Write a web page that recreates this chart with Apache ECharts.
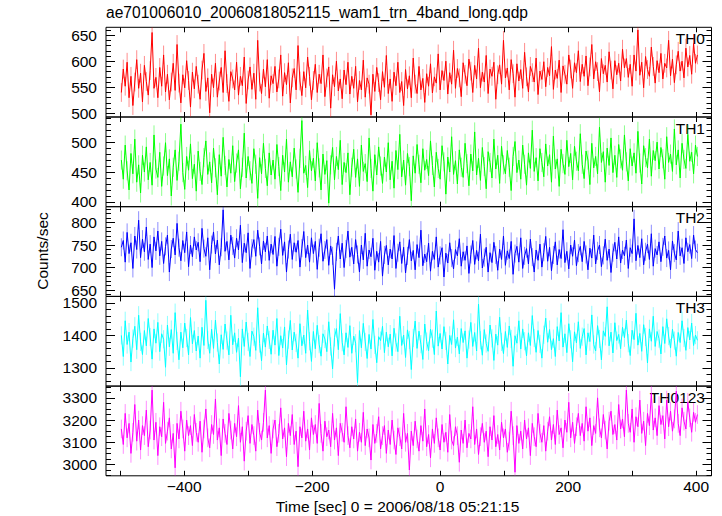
<!DOCTYPE html>
<html>
<head>
<meta charset="utf-8">
<script src="https://cdn.jsdelivr.net/npm/echarts@6/dist/echarts.min.js"></script>
<style>
html,body{margin:0;padding:0;background:#fff;}
#chart{width:722px;height:516px;}
</style>
</head>
<body>
<div id="chart"></div>
<script>
// ---- data ----
const titleText = 'ae701006010_20060818052115_wam1_trn_4band_long.qdp';
const xTitle = 'Time [sec] 0 = 2006/08/18 05:21:15';
const yTitle = 'Counts/sec';
const panelNames = ['TH0', 'TH1', 'TH2', 'TH3', 'TH0123'];
const tStart = -498;   // first bin time (s)
const tStep = 3;       // bin width (s)
const xTickValues = [-500, -400, -300, -200, -100, 0, 100, 200, 300, 400];
const xLabelValues = [-400, -200, 0, 200, 400];

const th0 = [
540,585,552,598,530,571,515,560,603,548,577,522,592,561,535,582,655,548,569,530,
588,552,612,541,575,526,560,596,544,632,558,520,574,549,601,563,512,579,547,590,
556,527,583,615,542,568,501,575,549,596,531,562,588,540,620,557,523,580,566,545,
598,535,571,553,608,519,564,589,546,577,527,640,560,538,585,551,603,529,572,557,
590,541,566,612,533,578,555,597,520,568,586,545,630,562,534,580,549,608,571,526,
563,594,540,575,557,612,532,568,589,510,574,551,600,543,566,528,583,555,598,537,
571,548,590,522,563,545,602,531,568,556,497,575,542,588,559,526,580,550,611,538,
566,523,579,553,598,540,561,515,584,547,572,530,606,556,538,590,545,567,521,576,
552,595,539,570,558,614,545,582,563,600,537,578,556,621,548,586,568,532,597,575,
553,604,581,540,592,566,625,549,579,560,611,538,585,571,598,527,574,593,556,640,
568,587,545,603,576,531,595,562,584,548,617,570,541,590,578,560,606,536,581,565,
599,551,588,572,628,546,583,567,602,540,591,575,556,612,585,548,597,578,620,561,
594,571,610,553,589,632,566,599,580,541,605,576,592,560,618,583,547,601,574,596,
562,623,587,605,569,594,552,612,581,660,573,598,549,609,584,571,627,590,558,601,
578,615,566,596,587,640,572,604,559,593,619,581,600,568,625,589,611,575,634,596,
612];

const th1 = [
470,438,495,452,420,481,447,505,433,462,415,478,450,492,437,466,428,512,455,441,
483,426,460,499,444,472,410,458,487,436,468,530,449,421,476,453,497,439,463,418,
485,451,429,474,502,446,467,432,490,457,412,479,443,508,461,425,471,448,494,434,
465,487,422,458,515,440,476,452,431,489,463,406,474,447,498,456,427,482,445,470,
438,496,459,419,478,450,505,433,467,442,490,455,416,473,536,448,461,424,486,452,
473,435,499,457,420,480,446,469,398,462,491,437,476,454,503,429,466,449,482,412,
458,488,441,472,426,495,451,464,434,507,456,418,479,445,492,460,431,475,450,499,
437,468,423,486,454,513,442,470,428,481,459,402,477,448,496,463,432,489,453,471,
444,502,461,425,483,456,438,494,467,413,475,450,509,446,469,430,487,458,441,498,
464,427,480,452,517,445,473,436,491,459,422,484,466,440,505,455,478,431,493,462,
447,486,458,419,476,501,449,470,438,495,463,428,482,456,520,451,474,435,489,466,
442,497,460,479,433,510,455,472,426,488,464,446,503,459,481,437,493,468,452,514,
463,439,485,470,429,498,457,476,447,525,466,484,433,490,461,507,449,478,441,496,
472,453,512,467,435,489,460,482,448,518,465,430,494,474,457,505,443,486,469,500,
455,491,472,438,509,466,480,451,522,462,487,440,498,471,456,513,468,483,447,495,
476];

const th2 = [
745,760,712,778,731,755,698,770,740,805,722,763,735,790,718,752,700,768,737,781,
726,758,709,747,772,690,741,765,728,798,744,715,760,733,779,702,750,724,768,739,
756,713,787,742,725,766,695,751,779,730,761,706,745,828,736,758,717,772,748,721,
765,739,794,711,754,733,777,698,743,762,725,783,747,708,759,735,770,716,752,729,
769,703,746,785,727,757,690,740,774,718,755,734,760,701,743,780,722,750,712,766,
731,758,696,744,775,714,739,762,705,748,726,652,735,770,719,754,700,741,781,723,
745,708,762,729,690,750,717,776,703,739,724,765,694,736,712,758,681,728,749,706,
741,719,771,698,733,757,709,745,688,726,762,715,738,695,751,722,783,704,730,713,
754,692,736,718,768,701,727,744,679,732,710,755,721,697,740,726,764,703,735,716,
748,687,729,760,707,738,715,774,699,722,745,690,733,711,756,728,694,741,718,770,
705,737,720,758,685,731,747,712,766,698,726,742,708,763,723,690,739,716,752,701,
734,769,714,745,693,728,757,706,740,720,784,711,736,697,750,725,761,704,732,747,
713,758,729,695,743,721,772,708,737,750,702,727,763,716,741,689,733,756,719,768,
710,739,726,761,698,744,731,808,715,749,722,764,706,735,752,718,775,703,742,728,
757,713,746,770,721,738,695,759,732,717,781,726,744,709,766,735,751,720,772,740,
733];

const th3 = [
1400,1335,1445,1372,1410,1318,1390,1428,1356,1462,1380,1341,1415,1368,1452,1395,1327,1420,1376,1440,
1350,1405,1388,1302,1432,1365,1418,1345,1470,1383,1325,1410,1362,1438,1392,1340,1455,1374,1415,1352,
1398,1330,1425,1369,1508,1386,1345,1419,1360,1447,1378,1312,1402,1357,1435,1384,1340,1462,1371,1408,
1348,1392,1273,1420,1366,1441,1380,1335,1413,1396,1354,1485,1375,1322,1407,1364,1429,1386,1342,1416,
1370,1452,1338,1399,1361,1426,1309,1387,1446,1355,1410,1377,1330,1436,1368,1401,1345,1478,1382,1320,
1412,1359,1431,1373,1336,1405,1389,1350,1442,1366,1297,1394,1421,1356,1467,1379,1340,1408,1363,1430,
1345,1398,1376,1255,1415,1362,1437,1380,1329,1403,1358,1449,1371,1316,1396,1384,1428,1347,1410,1365,
1404,1337,1422,1378,1350,1459,1369,1401,1332,1417,1386,1295,1392,1444,1360,1413,1373,1326,1435,1381,
1353,1419,1390,1341,1475,1367,1406,1358,1427,1383,1312,1400,1372,1448,1361,1395,1343,1421,1378,1414,
1330,1387,1440,1366,1409,1352,1496,1385,1339,1418,1375,1351,1432,1391,1323,1404,1370,1456,1380,1344,
1412,1363,1429,1389,1305,1399,1376,1445,1358,1420,1382,1337,1408,1369,1461,1392,1348,1415,1374,1330,
1402,1453,1379,1418,1356,1390,1335,1427,1383,1470,1364,1405,1347,1436,1388,1319,1411,1377,1442,1360,
1396,1421,1340,1408,1381,1463,1372,1352,1430,1389,1325,1414,1397,1488,1368,1410,1346,1439,1384,1403,
1359,1425,1393,1447,1376,1338,1416,1387,1468,1370,1406,1351,1433,1395,1315,1420,1382,1459,1366,1412,
1390,1343,1427,1375,1451,1398,1361,1419,1384,1336,1409,1378,1445,1392,1354,1424,1386,1438,1369,1401,
1385];

const th0123 = [
3160,3090,3230,3120,3185,3050,3145,3270,3105,3200,3065,3175,3130,3245,3080,3155,3335,3110,3190,3040,
3170,3125,3280,3095,3150,3210,3070,3140,2985,3185,3115,3240,3160,3060,3200,3130,3175,3085,3225,3145,
3100,3195,3055,3160,3250,3120,3075,3180,3135,3295,3110,3165,3040,3205,3140,3090,3230,3155,3070,3185,
3125,3265,3100,3170,3015,3150,3220,3095,3180,3130,3060,3245,3145,3110,3190,3335,3120,3175,3050,3160,
3200,3080,3140,3255,3115,3165,3035,3185,3130,3225,3090,3150,2990,3170,3120,3240,3105,3160,3065,3210,
3135,3180,3095,3275,3140,3060,3195,3125,3155,3080,3230,3110,3165,3040,3185,3145,3100,3260,3130,3075,
3170,3115,3205,3060,3145,3100,3235,3085,3160,3120,3020,3180,3095,3140,3215,3070,3130,3175,3050,3155,
3090,3200,3110,3045,3165,3125,3070,3230,3100,3140,2975,3150,3085,3195,3115,3060,3175,3105,3250,3080,
3135,3030,3160,3095,3210,3120,3065,3180,3100,3145,3055,3225,3110,3085,3170,3130,3010,3155,3095,3200,
3075,3140,3115,3260,3090,3160,3045,3125,3185,3100,3150,3035,3170,3110,3220,3080,3135,3065,3190,3120,
3160,3055,3105,3240,3130,2965,3175,3095,3150,3070,3200,3115,3165,3040,3185,3125,3080,3230,3140,3100,
3175,3060,3150,3215,3110,3180,3090,3245,3135,3165,3075,3200,3145,3280,3120,3190,3095,3170,3230,3130,
3185,3105,3260,3150,3210,3085,3175,3140,3300,3165,3120,3225,3155,3070,3195,3240,3135,3180,3110,3270,
3160,3205,3125,3335,3185,3145,3250,3100,3215,3170,3290,3140,3195,3085,3230,3175,3320,3155,3210,3130,
3265,3180,3220,3115,3290,3170,3240,3150,3205,3330,3185,3130,3255,3195,3160,3280,3210,3145,3235,3190,
3225];

// estimated 1-sigma error per bin for each band (counts/sec)
const seriesErrors = [18, 16, 20, 28, 42];

const seriesValues = [th0, th1, th2, th3, th0123];
const yMajorTicks = [
  [500, 550, 600, 650],
  [400, 450, 500],
  [650, 700, 750, 800],
  [1300, 1400, 1500],
  [3000, 3100, 3200, 3300]
];
const yMinorTicks = [
  [500,510,520,530,540,550,560,570,580,590,600,610,620,630,640,650,660],
  [400,410,420,430,440,450,460,470,480,490,500,510,520,530,540],
  [640,650,660,670,680,690,700,710,720,730,740,750,760,770,780,790,800,810,820,830],
  [1260,1280,1300,1320,1340,1360,1380,1400,1420,1440,1460,1480,1500,1520],
  [2950,2975,3000,3025,3050,3075,3100,3125,3150,3175,3200,3225,3250,3275,3300,3325,3350]
];
const yRanges = [[493, 665], [392, 542], [636, 835], [1244, 1520], [2949, 3353]];

// ---- styling / layout ----
const colors = ['#ff0000', '#00ff00', '#0000ff', '#00ffff', '#ff00ff'];
const FONT = 'Liberation Sans, Arial, Helvetica, sans-serif';
const FS = 15.5;
const left = 106, right = 722 - 711.5;
const panelTop = 27.3, panelH = 89.7;
const xMin = -522, xMax = 424;

const times = th0.map((_, i) => tStart + tStep * i);

const grids = [], xAxes = [], yAxes = [], series = [], graphics = [];
for (let k = 0; k < 5; k++) {
  const top = panelTop + k * panelH;
  grids.push({left: left, right: right, top: top, height: panelH,
    show: true, borderColor: '#000', borderWidth: 1, backgroundColor: 'transparent'});
  const isBottom = k === 4;
  xAxes.push({type: 'value', gridIndex: k, min: xMin, max: xMax, position: 'bottom',
    axisLine: {show: false, onZero: false}, splitLine: {show: false},
    axisTick: {show: true, inside: true, length: 5, customValues: xTickValues, lineStyle: {color: '#000'}},
    axisLabel: {show: isBottom, customValues: xLabelValues, margin: 5, fontSize: FS, lineHeight: 12,
      color: '#000', fontFamily: FONT,
      formatter: v => (v < 0 ? '\u2212' + Math.abs(v) : String(v))}
  });
  xAxes.push({type: 'value', gridIndex: k, min: xMin, max: xMax, position: 'top',
    axisLine: {show: false, onZero: false}, splitLine: {show: false}, axisLabel: {show: false},
    axisTick: {show: true, inside: true, length: 5, customValues: xTickValues, lineStyle: {color: '#000'}}
  });
  const [mn, mx] = yRanges[k];
  const base = {type: 'value', gridIndex: k, min: mn, max: mx,
    axisLine: {show: false, onZero: false}, splitLine: {show: false}};
  yAxes.push(Object.assign({}, base, {position: 'left',
    axisTick: {show: true, inside: true, length: 9, customValues: yMajorTicks[k], lineStyle: {color: '#000'}},
    axisLabel: {show: true, customValues: yMajorTicks[k], margin: 9, fontSize: FS, lineHeight: 12,
      color: '#000', fontFamily: FONT, formatter: v => String(v)}
  }));
  yAxes.push(Object.assign({}, base, {position: 'left', axisLabel: {show: false},
    axisTick: {show: true, inside: true, length: 5, customValues: yMinorTicks[k], lineStyle: {color: '#000'}}}));
  yAxes.push(Object.assign({}, base, {position: 'right', axisLabel: {show: false},
    axisTick: {show: true, inside: true, length: 9, customValues: yMajorTicks[k], lineStyle: {color: '#000'}}}));
  yAxes.push(Object.assign({}, base, {position: 'right', axisLabel: {show: false},
    axisTick: {show: true, inside: true, length: 5, customValues: yMinorTicks[k], lineStyle: {color: '#000'}}}));

  const col = colors[k];
  const err = seriesErrors[k];
  // error bars
  series.push({type: 'custom', xAxisIndex: 2 * k, yAxisIndex: 4 * k, silent: true, animation: false,
    clip: true, z: 1,
    data: seriesValues[k].map((v, i) => [times[i], v, err]),
    encode: {x: 0, y: 1},
    renderItem: (params, api) => {
      const x = api.value(0), y = api.value(1), e = api.value(2);
      const p1 = api.coord([x, y - e]), p2 = api.coord([x, y + e]);
      return {type: 'line', shape: {x1: p1[0], y1: p1[1], x2: p2[0], y2: p2[1]},
        style: {stroke: col, lineWidth: 1, opacity: 0.45}};
    }
  });
  series.push({type: 'line', xAxisIndex: 2 * k, yAxisIndex: 4 * k, z: 2,
    data: seriesValues[k].map((v, i) => [times[i], v]),
    symbol: 'none', showSymbol: false, clip: true,
    lineStyle: {color: col, width: 1}, itemStyle: {color: col},
    silent: true, animation: false});

  graphics.push({type: 'text', right: 722 - 705, top: top + 3,
    style: {text: panelNames[k], fill: '#000', font: FS + 'px ' + FONT, textAlign: 'right'}});
}

graphics.push({type: 'text', left: 106, top: 4,
  style: {text: titleText, fill: '#000', font: '15.6px ' + FONT}});
graphics.push({type: 'text', x: 397.5, y: 506,
  style: {text: xTitle, fill: '#000', font: FS + 'px ' + FONT, textAlign: 'center', textVerticalAlign: 'middle'}});
graphics.push({type: 'text', x: 42, y: 251, rotation: Math.PI / 2,
  style: {text: yTitle, fill: '#000', font: FS + 'px ' + FONT, textAlign: 'center', textVerticalAlign: 'middle'}});

const chart = echarts.init(document.getElementById('chart'), null, {renderer: 'svg'});
chart.setOption({
  animation: false,
  backgroundColor: '#fff',
  grid: grids,
  xAxis: xAxes,
  yAxis: yAxes,
  series: series,
  graphic: graphics
});
</script>
</body>
</html>
